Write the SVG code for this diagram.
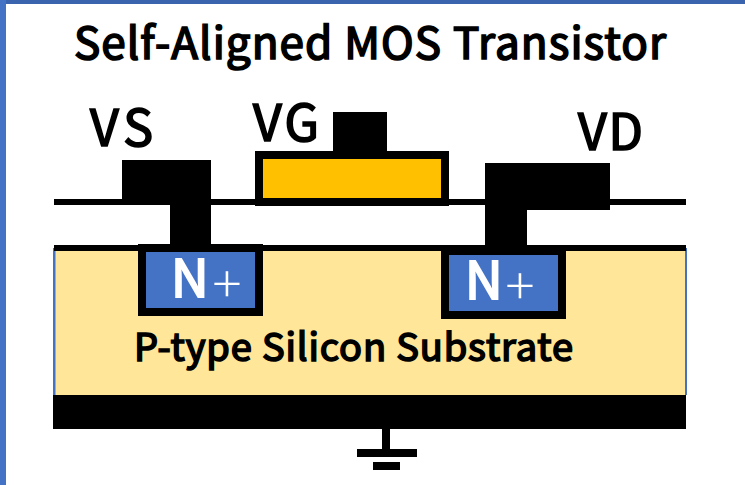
<svg xmlns="http://www.w3.org/2000/svg" width="745" height="485" viewBox="0 0 745 485">
<style>
.k{fill:#000}
.t{font-family:"Noto Sans CJK JP","Noto Sans",sans-serif;font-weight:400;fill:#000;stroke:#000;stroke-width:1.700}
.n{font-family:"Noto Sans CJK JP","Noto Sans",sans-serif;fill:#fff;stroke:#fff;stroke-width:2;font-size:52px;font-weight:400}
.pl{font-family:Inter,sans-serif;font-weight:200;font-size:58px;fill:#fff;text-anchor:middle}
.nb{fill:#4472c4;stroke:#000;stroke-width:8}
.e{fill:#4472c4}
</style>
<rect width="745" height="485" fill="#fff"/>
<rect x="0" y="0" width="745" height="4" fill="#3a65ae"/>
<rect x="0" y="0" width="6" height="485" fill="#4472c4"/>
<g id="title"><text class="t" x="74" y="59" font-size="44" textLength="592" lengthAdjust="spacing">Self-Aligned MOS Transistor</text></g>
<g id="substrate">
<rect x="53" y="248" width="634" height="147" class="e"/>
<rect x="55.500" y="248" width="629.500" height="147" fill="#ffe699"/>
<rect x="54" y="245" width="632" height="6" class="k"/>
<text class="t" x="134" y="361" font-size="38" textLength="439" lengthAdjust="spacing">P-type Silicon Substrate</text>
</g>
<g id="oxide"><rect x="54" y="199" width="632" height="6" class="k"/></g>
<g id="backplate"><rect x="53" y="395" width="633" height="34" class="k"/></g>
<g id="source-contact">
<path class="k" d="M122 160H211V246H170V205H122Z"/>
<text class="t" x="90" y="146" font-size="50" textLength="63" lengthAdjust="spacing">VS</text>
</g>
<g id="gate">
<rect x="333" y="112" width="54" height="40" class="k"/>
<rect x="259" y="155" width="186" height="47" fill="#ffc000" stroke="#000" stroke-width="8"/>
<text class="t" x="253" y="141" font-size="50" textLength="66" lengthAdjust="spacing">VG</text>
</g>
<g id="drain-contact">
<path class="k" d="M485 163H610V210H527V247H485Z"/>
<text class="t" x="578" y="150" font-size="50" textLength="65" lengthAdjust="spacing">VD</text>
</g>
<g id="n-source">
<rect class="nb" x="142" y="248" width="117" height="64"/>
<text class="n" x="171" y="297">N</text>
<text class="pl" x="227" y="299.500">+</text>
</g>
<g id="n-drain">
<rect class="nb" x="445" y="251" width="117" height="64"/>
<text class="n" x="465" y="299">N</text>
<text class="pl" x="520" y="302">+</text>
</g>
<g id="connectors">
<rect x="382" y="429" width="8" height="22" class="k"/>
<rect x="357" y="449" width="60" height="8" class="k"/>
<rect x="373" y="462" width="27" height="8" class="k"/>
</g>
</svg>
